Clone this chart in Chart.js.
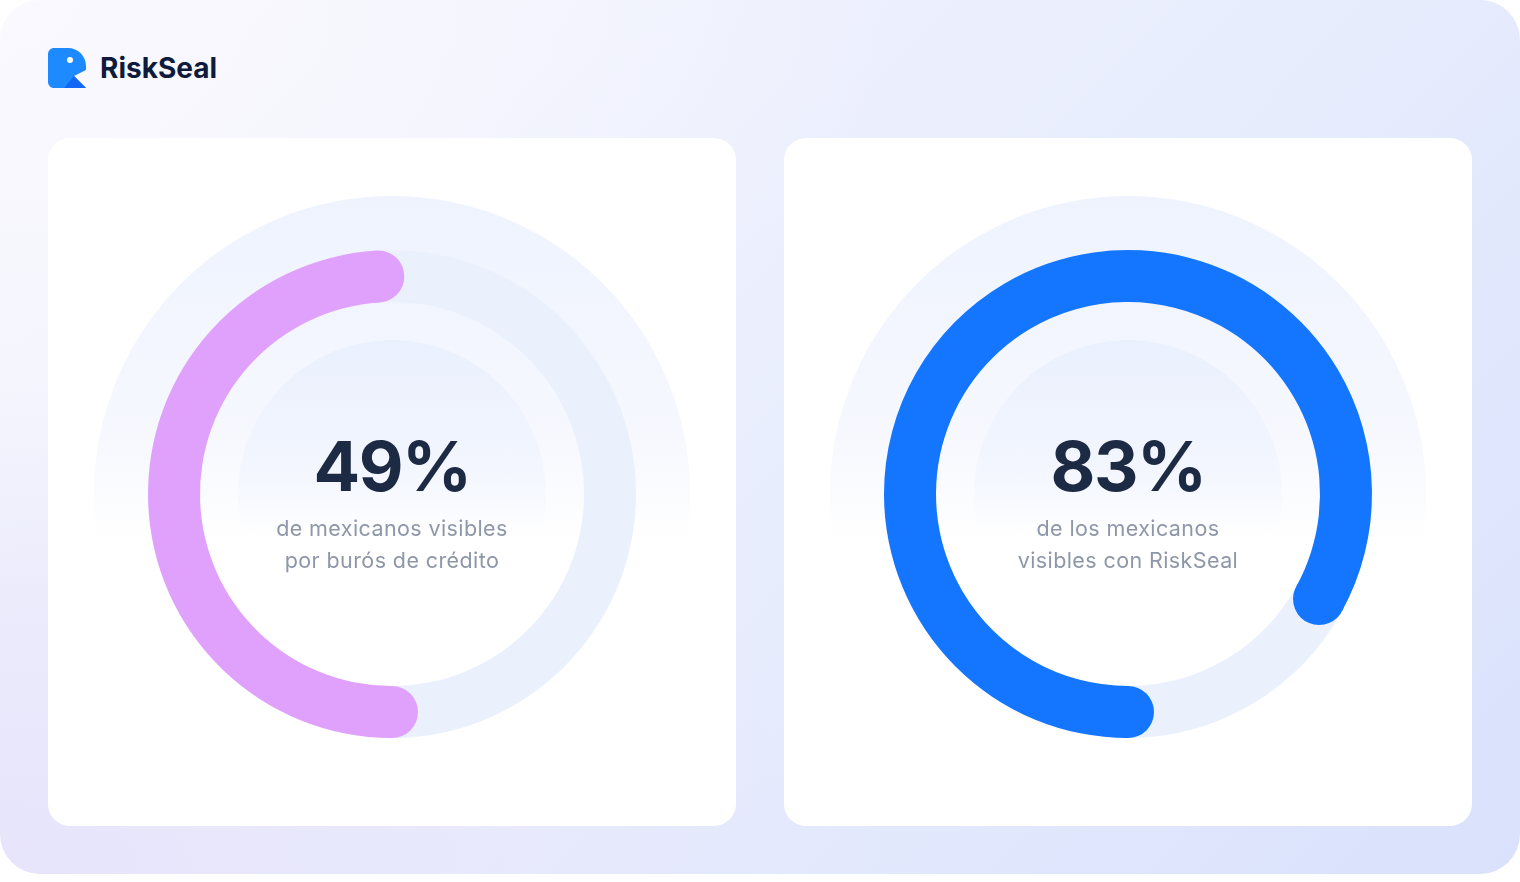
<!DOCTYPE html>
<html lang="es">
<head>
<meta charset="utf-8">
<title>RiskSeal</title>
<script src="https://cdn.jsdelivr.net/npm/chart.js@4.4.1/dist/chart.umd.min.js"></script>
<style>
  html, body { margin: 0; padding: 0; background: #ffffff; }
  body { width: 1520px; height: 882px; position: relative; overflow: hidden; font-family: Inter, 'Noto Sans', sans-serif; }
  .frame {
    position: absolute; left: 0; top: 0; width: 1520px; height: 874px; border-radius: 40px;
    background:
      radial-gradient(ellipse 900px 600px at 0% 0%, rgba(250,249,254,1) 0%, rgba(250,249,254,0) 100%),
      radial-gradient(ellipse 900px 500px at 0% 100%, rgba(231,228,251,1) 0%, rgba(231,228,251,0) 100%),
      linear-gradient(135deg, #F5F5FD 0%, #E8EDFD 55%, #D9E1FC 100%);
  }
  .logo { position: absolute; left: 48px; top: 48px; display: flex; align-items: center; }
  .logo span { margin-left: 14px; font-size: 28px; font-weight: 700; color: #0F1B3D; letter-spacing: 0px; }
  .card { position: absolute; top: 138px; width: 688px; height: 688px; background: #ffffff; border-radius: 22px; overflow: hidden; }
  .halo { position: absolute; border-radius: 50%; }
  .halo.big { left: 46px; top: 58px; width: 596px; height: 596px;
    background: linear-gradient(180deg, #EEF3FE 0%, #F6F8FE 40%, rgba(255,255,255,0) 58%); }
  .halo.small { left: 190px; top: 202px; width: 308px; height: 308px;
    background: linear-gradient(180deg, #EAF0FD 0%, #F1F5FE 35%, rgba(255,255,255,0) 62%); }
  .card canvas { position: absolute; left: 0; top: 0; }
  .label { position: absolute; left: 0; width: 688px; text-align: center; }
  .value { top: 288px; font-size: 69px; font-weight: 700; color: #1C2A44; letter-spacing: -1.5px; line-height: 80px; }
  .desc { top: 374px; font-size: 21.5px; color: #8E97A9; line-height: 32px; letter-spacing: 0.4px; }
</style>
</head>
<body>
<div class="frame"></div>
<div class="logo">
  <svg width="38" height="40" viewBox="0 0 38 40">
    <path d="M6 0 H20 C30 0 38 8 38 18 L38 22 L26 28 L38 40 H6 C2.7 40 0 37.3 0 34 V6 C0 2.7 2.7 0 6 0 Z" fill="#1D8BFF"/>
    <path d="M16 40 L26 28 L38 40 Z" fill="#1467F5"/>
    <circle cx="22" cy="12" r="3" fill="#ffffff"/>
  </svg>
  <span>RiskSeal</span>
</div>

<div class="card" style="left:48px">
  <div class="halo big"></div>
  <div class="halo small"></div>
  <canvas id="chart-buro" width="688" height="688"></canvas>
  <div class="label value">49%</div>
  <div class="label desc">de mexicanos visibles<br>por burós de crédito</div>
</div>

<div class="card" style="left:784px">
  <div class="halo big"></div>
  <div class="halo small"></div>
  <canvas id="chart-riskseal" width="688" height="688"></canvas>
  <div class="label value">83%</div>
  <div class="label desc">de los mexicanos<br>visibles con RiskSeal</div>
</div>

<script>
const categories = ['Visibles', 'No visibles'];
const buroValues = [49, 51];
const risksealValues = [83, 17];

const trackColor = '#EAF1FD';

// round caps on the first slice, drawn from the arc element geometry
const roundCaps = {
  id: 'roundCaps',
  afterDatasetsDraw(chart) {
    const { ctx } = chart;
    const arc = chart.getDatasetMeta(0).data[0];
    const { x, y, startAngle, endAngle, innerRadius, outerRadius } = arc.getProps(
      ['x', 'y', 'startAngle', 'endAngle', 'innerRadius', 'outerRadius'],
      true
    );
    const mid = (innerRadius + outerRadius) / 2;
    const r = (outerRadius - innerRadius) / 2;
    ctx.save();
    ctx.fillStyle = arc.options.backgroundColor;
    for (const angle of [startAngle, endAngle]) {
      ctx.beginPath();
      ctx.arc(x + Math.cos(angle) * mid, y + Math.sin(angle) * mid, r, 0, Math.PI * 2);
      ctx.fill();
    }
    ctx.restore();
  },
};

function createRing(canvasId, values, color) {
  return new Chart(document.getElementById(canvasId), {
    type: 'doughnut',
    data: {
      labels: categories,
      datasets: [
        {
          data: values,
          backgroundColor: [color, trackColor],
          borderWidth: 0,
          hoverOffset: 0,
          offset: 0,
        },
      ],
    },
    options: {
      responsive: false,
      animation: false,
      events: [],
      rotation: 180,
      cutout: 192,
      layout: { padding: { top: 112, bottom: 88, left: 100, right: 100 } },
      plugins: {
        legend: { display: false },
        tooltip: { enabled: false },
      },
    },
    plugins: [roundCaps],
  });
}

createRing('chart-buro', buroValues, '#E0A1FD');
createRing('chart-riskseal', risksealValues, '#1476FF');
</script>
</body>
</html>
